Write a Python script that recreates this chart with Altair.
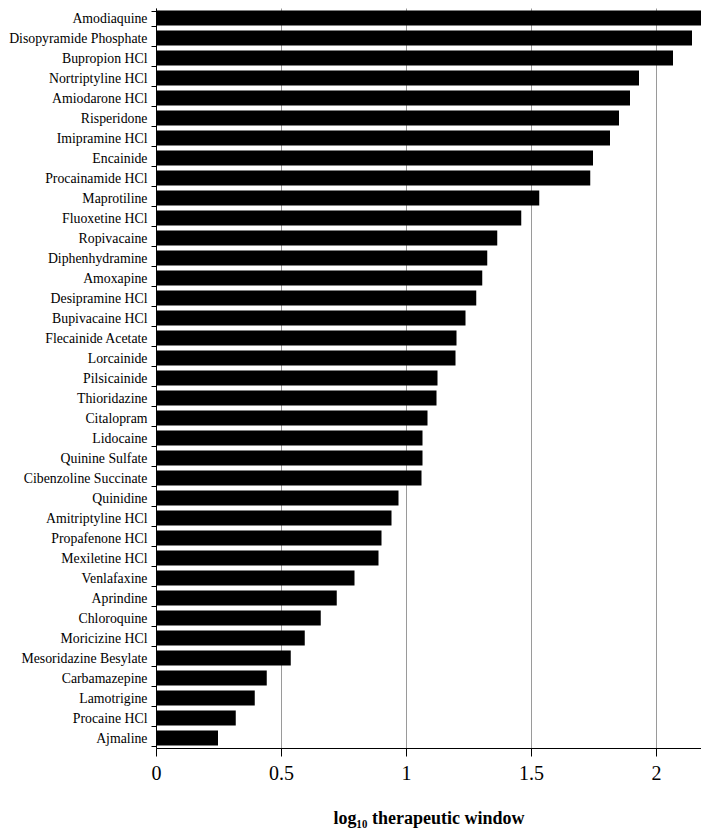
import altair as alt
import pandas as pd

drugs = ["Amodiaquine", "Disopyramide Phosphate", "Bupropion HCl", "Nortriptyline HCl",
         "Amiodarone HCl", "Risperidone", "Imipramine HCl", "Encainide", "Procainamide HCl",
         "Maprotiline", "Fluoxetine HCl", "Ropivacaine", "Diphenhydramine", "Amoxapine",
         "Desipramine HCl", "Bupivacaine HCl", "Flecainide Acetate", "Lorcainide",
         "Pilsicainide", "Thioridazine", "Citalopram", "Lidocaine", "Quinine Sulfate",
         "Cibenzoline Succinate", "Quinidine", "Amitriptyline HCl", "Propafenone HCl",
         "Mexiletine HCl", "Venlafaxine", "Aprindine", "Chloroquine", "Moricizine HCl",
         "Mesoridazine Besylate", "Carbamazepine", "Lamotrigine", "Procaine HCl", "Ajmaline"]
values = [2.21, 2.144, 2.068, 1.932, 1.896, 1.852, 1.816, 1.748, 1.737, 1.533, 1.461,
          1.365, 1.325, 1.305, 1.281, 1.238, 1.202, 1.198, 1.126, 1.122, 1.086, 1.066,
          1.066, 1.062, 0.970, 0.942, 0.902, 0.890, 0.794, 0.723, 0.659, 0.595, 0.539,
          0.443, 0.395, 0.319, 0.248]
x_ticks = [0, 0.5, 1, 1.5, 2]

df = pd.DataFrame({"drug": drugs, "value": values})

chart = alt.Chart(df).mark_bar(color="black", clip=True).encode(
    x=alt.X("value:Q",
            scale=alt.Scale(domain=[0, 2.18], nice=False, zero=True),
            axis=alt.Axis(values=x_ticks, format="~g", title="log₁₀ therapeutic window",
                          labelFont="Liberation Serif", labelFontSize=20, labelColor="black",
                          titleFont="Liberation Serif", titleFontSize=18, titleFontWeight="bold",
                          titleColor="black", titlePadding=26, labelPadding=7,
                          tickSize=8, tickColor="black", domainColor="black",
                          grid=True, gridColor="#9a9a9a", gridWidth=1, labelFlush=False)),
    y=alt.Y("drug:N", sort=drugs,
            scale=alt.Scale(paddingInner=0.25, paddingOuter=0.125),
            axis=alt.Axis(title=None, labelFont="Liberation Serif", labelFontSize=13.8,
                          labelColor="black", tickBand="extent", tickSize=5,
                          tickColor="black", domainColor="black", labelPadding=4,
                          grid=False, labelLimit=200)),
).properties(
    width=545, height=740,
    autosize=alt.AutoSizeParams(type="none"),
    padding={"left": 148, "top": 0, "right": 0, "bottom": 80},
).configure_view(stroke=None)

chart.save("out.html", embed_options={"renderer": "svg", "actions": False})
